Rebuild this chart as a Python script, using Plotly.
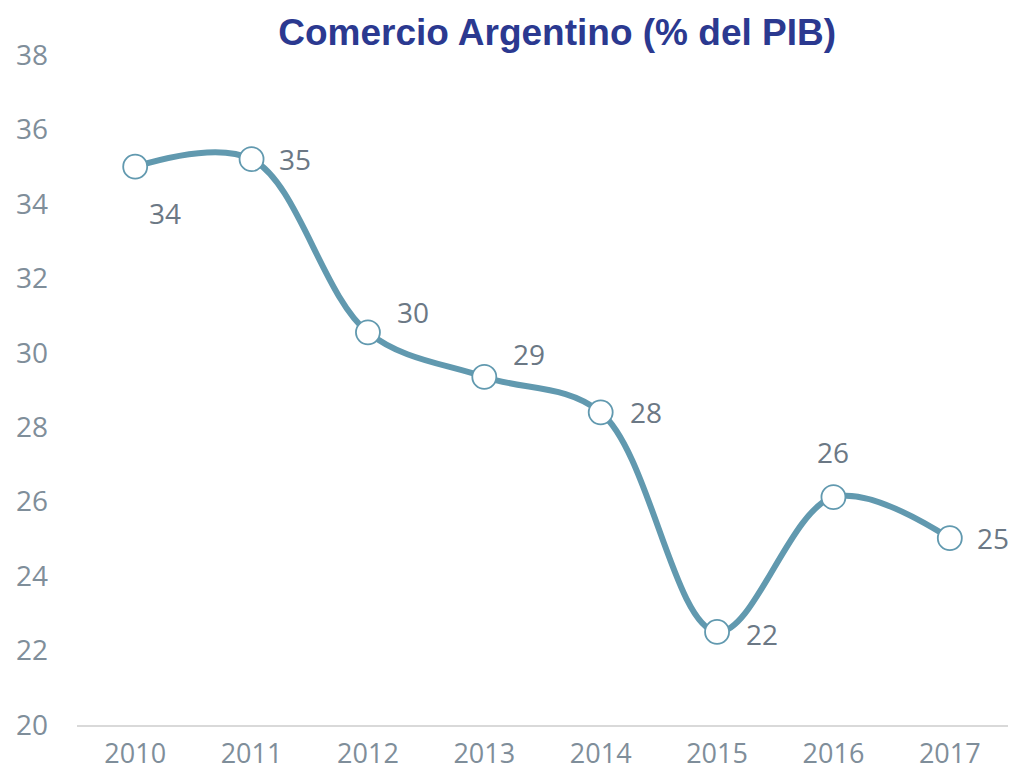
import plotly.graph_objects as go

years = [2010, 2011, 2012, 2013, 2014, 2015, 2016, 2017]
year_labels = ["2010", "2011", "2012", "2013", "2014", "2015", "2016", "2017"]
values = [35.0, 35.2, 30.55, 29.35, 28.4, 22.5, 26.12, 25.02]
labels = ["34", "35", "30", "29", "28", "22", "26", "25"]
y_ticks = [20, 22, 24, 26, 28, 30, 32, 34, 36, 38]

# label offsets (pixels) relative to each point
label_dx = [30, 43, 45, 45, 45, 45, 0, 43]
label_dy = [-46, 0, 20, 23, 0, -2, 45, 0]

line_color = "#6199AF"
tick_color = "#7F8E9A"
label_color = "#6B7885"
font_family = "Open Sans, Noto Sans, sans-serif"

fig = go.Figure()
fig.add_trace(go.Scatter(
    x=years, y=values, mode="lines+markers",
    line=dict(color=line_color, width=6, shape="spline", smoothing=1.0),
    marker=dict(size=24, color="white", line=dict(color=line_color, width=1.8)),
    hoverinfo="skip", showlegend=False,
))

for x, y, t, dx, dy in zip(years, values, labels, label_dx, label_dy):
    fig.add_annotation(x=x, y=y, text=t, showarrow=False, xshift=dx, yshift=dy,
                       font=dict(family=font_family, size=28, color=label_color))

fig.update_layout(
    width=1013, height=778,
    margin=dict(l=77, r=5, t=55, b=53),
    paper_bgcolor="white", plot_bgcolor="white",
    title=dict(text="<b>Comercio Argentino (% del PIB)</b>", x=0.55, xanchor="center",
               y=1 - 32 / 778, yanchor="middle",
               font=dict(family="Liberation Sans, Arial, sans-serif", size=37, color="#2B3990")),
)
fig.update_xaxes(range=[2009.5, 2017.5], tickvals=years, ticktext=year_labels,
                 showgrid=False, showline=True, linecolor="#D9D9D9", linewidth=1.5,
                 ticks="", tickfont=dict(family=font_family, size=27, color=tick_color),
                 ticklabelstandoff=4, zeroline=False, automargin=False)
fig.update_yaxes(range=[20, 38], tickvals=y_ticks, showgrid=False, showline=False, zeroline=False,
                 ticks="", tickfont=dict(family=font_family, size=28, color=tick_color),
                 ticklabelstandoff=28, automargin=False)

fig.write_html("out.html")
